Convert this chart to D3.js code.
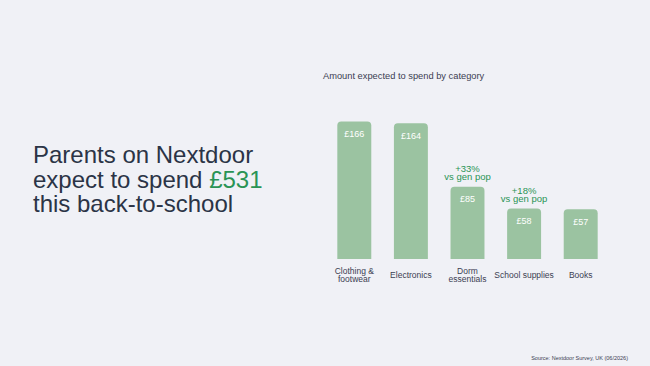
<!DOCTYPE html>
<html>
<head>
<meta charset="utf-8">
<script src="https://cdn.jsdelivr.net/npm/d3@7"></script>
<style>
  body { margin: 0; background: #f0f1f6; }
  svg { display: block; font-family: "Liberation Sans", Arial, sans-serif; }
</style>
</head>
<body>
<div id="chart"></div>
<script>
var width = 650;
var height = 366;

// data
var categories = [["Clothing &", "footwear"], ["Electronics"], ["Dorm", "essentials"], ["School supplies"], ["Books"]];
var values = [166, 164, 85, 58, 57];
var valueLabels = ["£166", "£164", "£85", "£58", "£57"];
var notes = [null, null, ["+33%", "vs gen pop"], ["+18%", "vs gen pop"], null];

var green = "#2a9455";
var barColor = "#9bc3a1";
var textColor = "#2b3446";

var svg = d3.select('#chart')
  .append('svg')
  .attr('width', width)
  .attr('height', height);

svg.append('rect').attr('width', width).attr('height', height).attr('fill', '#f0f1f6');

// headline
var head = svg.append('text')
  .attr('x', 33)
  .attr('font-size', 24)
  .attr('fill', textColor);
head.append('tspan').attr('x', 33).attr('y', 163).text('Parents on Nextdoor');
var l2 = head.append('tspan').attr('x', 33).attr('y', 187.5);
l2.append('tspan').text('expect to spend ');
l2.append('tspan').attr('fill', green).text('£531');
head.append('tspan').attr('x', 33).attr('y', 212).text('this back-to-school');

// chart title
svg.append('text')
  .attr('x', 323).attr('y', 78.5)
  .attr('font-size', 9.3)
  .attr('fill', '#3b4052')
  .text('Amount expected to spend by category');

var x = d3.scaleBand()
  .domain(d3.range(values.length))
  .range([326, 609])
  .paddingInner(0.4)
  .paddingOuter(0.2);

// bars sit a bit below the zero line, hence the -5 floor
var y = d3.scaleLinear().domain([-5, 170]).range([259, 118.4]);

var r = 4;
function barPath(x0, w, top, bottom) {
  return 'M' + x0 + ',' + bottom +
    'V' + (top + r) +
    'Q' + x0 + ',' + top + ' ' + (x0 + r) + ',' + top +
    'H' + (x0 + w - r) +
    'Q' + (x0 + w) + ',' + top + ' ' + (x0 + w) + ',' + (top + r) +
    'V' + bottom + 'Z';
}

var g = svg.append('g');

g.selectAll('.bar')
  .data(values)
  .enter()
  .append('path')
  .attr('class', 'bar')
  .attr('fill', barColor)
  .attr('d', function(d, i) { return barPath(x(i), x.bandwidth(), y(d), y(-5)); });

g.selectAll('.val')
  .data(values)
  .enter()
  .append('text')
  .attr('class', 'val')
  .attr('x', function(d, i) { return x(i) + x.bandwidth() / 2; })
  .attr('y', function(d) { return y(d) + 15.5; })
  .attr('text-anchor', 'middle')
  .attr('font-size', 9)
  .attr('fill', '#ffffff')
  .text(function(d, i) { return valueLabels[i]; });

// annotations above dorm / school supplies
notes.forEach(function(n, i) {
  if (!n) return;
  var t = g.append('text')
    .attr('text-anchor', 'middle')
    .attr('font-size', 9.5)
    .attr('fill', green);
  n.forEach(function(line, k) {
    t.append('tspan')
      .attr('x', x(i) + x.bandwidth() / 2)
      .attr('y', y(values[i]) - 6.5 + (k - 1) * 7.8)
      .text(line);
  });
});

// category labels
categories.forEach(function(c, i) {
  var t = g.append('text')
    .attr('text-anchor', 'middle')
    .attr('font-size', 8.5)
    .attr('fill', '#3b4052');
  var y0 = c.length == 1 ? 278 : 274;
  c.forEach(function(line, k) {
    t.append('tspan')
      .attr('x', x(i) + x.bandwidth() / 2)
      .attr('y', y0 + k * 7.8)
      .text(line);
  });
});

// source
svg.append('text')
  .attr('x', 628).attr('y', 360)
  .attr('text-anchor', 'end')
  .attr('font-size', 5.5)
  .attr('fill', '#3b4052')
  .text('Source: Nextdoor Survey, UK (06/2026)');
</script>
</body>
</html>
